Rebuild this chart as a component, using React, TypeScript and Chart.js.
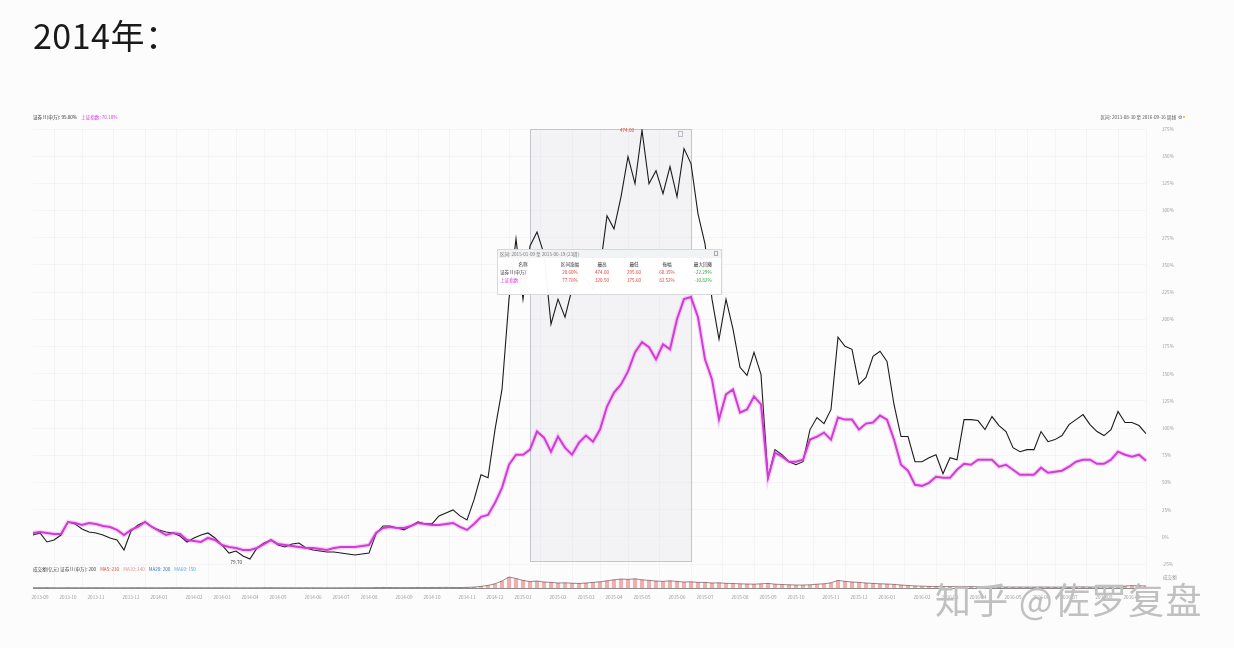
import React, { useEffect, useRef } from "react";
import { Chart, registerables } from "chart.js";

Chart.register(...registerables);

const WEEKS: string[] = [
  "2013-08-30", "2013-09-06", "2013-09-13", "2013-09-20", "2013-09-27", "2013-10-04", "2013-10-11", "2013-10-18", "2013-10-25", "2013-11-01",
  "2013-11-08", "2013-11-15", "2013-11-22", "2013-11-29", "2013-12-06", "2013-12-13", "2013-12-20", "2013-12-27",
  "2014-01-03", "2014-01-10", "2014-01-17", "2014-01-24", "2014-01-31", "2014-02-07", "2014-02-14", "2014-02-21", "2014-02-28",
  "2014-03-07", "2014-03-14", "2014-03-21", "2014-03-28", "2014-04-04", "2014-04-11", "2014-04-18", "2014-04-25",
  "2014-05-02", "2014-05-09", "2014-05-16", "2014-05-23", "2014-05-30", "2014-06-06", "2014-06-13", "2014-06-20", "2014-06-27",
  "2014-07-04", "2014-07-11", "2014-07-18", "2014-07-25", "2014-08-01", "2014-08-08", "2014-08-15", "2014-08-22", "2014-08-29",
  "2014-09-05", "2014-09-12", "2014-09-19", "2014-09-26", "2014-10-03", "2014-10-10", "2014-10-17", "2014-10-24", "2014-10-31",
  "2014-11-07", "2014-11-14", "2014-11-21", "2014-11-28", "2014-12-05", "2014-12-12", "2014-12-19", "2014-12-26",
  "2015-01-02", "2015-01-09", "2015-01-16", "2015-01-23", "2015-01-30", "2015-02-06", "2015-02-13", "2015-02-20", "2015-02-27",
  "2015-03-06", "2015-03-13", "2015-03-20", "2015-03-27", "2015-04-03", "2015-04-10", "2015-04-17", "2015-04-24",
  "2015-05-01", "2015-05-08", "2015-05-15", "2015-05-22", "2015-05-29", "2015-06-05", "2015-06-12", "2015-06-19", "2015-06-26",
  "2015-07-03", "2015-07-10", "2015-07-17", "2015-07-24", "2015-07-31", "2015-08-07", "2015-08-14", "2015-08-21", "2015-08-28",
  "2015-09-04", "2015-09-11", "2015-09-18", "2015-09-25", "2015-10-02", "2015-10-09", "2015-10-16", "2015-10-23", "2015-10-30",
  "2015-11-06", "2015-11-13", "2015-11-20", "2015-11-27", "2015-12-04", "2015-12-11", "2015-12-18", "2015-12-25",
  "2016-01-01", "2016-01-08", "2016-01-15", "2016-01-22", "2016-01-29", "2016-02-05", "2016-02-12", "2016-02-19", "2016-02-26",
  "2016-03-04", "2016-03-11", "2016-03-18", "2016-03-25", "2016-04-01", "2016-04-08", "2016-04-15", "2016-04-22", "2016-04-29",
  "2016-05-06", "2016-05-13", "2016-05-20", "2016-05-27", "2016-06-03", "2016-06-10", "2016-06-17", "2016-06-24",
  "2016-07-01", "2016-07-08", "2016-07-15", "2016-07-22", "2016-07-29", "2016-08-05", "2016-08-12", "2016-08-19", "2016-08-26",
  "2016-09-02", "2016-09-09", "2016-09-16",
];

// cumulative return (%) of the securities sector index (black line)
const BROKER: number[] = [
  1.8, 3.7, -4.6, -2.8, 1.8, 13.8, 12.0, 7.4, 4.6, 3.7,
  1.8, -0.9, -2.8, -12.0, 5.5, 11.1, 13.8, 9.2, 6.5, 4.6,
  3.7, 0.9, -4.6, -0.9, 1.8, 3.7, -0.9, -7.4, -14.8, -12.9,
  -17.5, -20.3, -10.1, -5.5, -2.8, -7.4, -9.2, -6.5, -5.5, -10.1,
  -12.0, -12.9, -13.8, -13.8, -14.8, -15.7, -16.6, -15.7, -14.8, 2.8,
  10.1, 10.1, 8.3, 6.5, 10.1, 13.8, 12.0, 12.0, 19.4, 22.1,
  24.9, 19.4, 15.7, 34.1, 57.2, 54.4, 98.7, 135.6, 218.6, 274.0,
  218.6, 267.5, 280.4, 260.1, 195.6, 218.6, 202.0, 227.9, 241.7, 237.1,
  227.9, 246.3, 295.2, 283.2, 312.7, 349.6, 324.7, 374.0, 324.7, 336.7,
  315.5, 340.4, 312.7, 357.0, 343.2, 297.0, 269.4, 218.6, 181.7, 218.6,
  191.0, 155.9, 148.5, 169.7, 149.4, 54.4, 80.3, 75.6, 69.2, 66.4,
  69.2, 98.7, 109.8, 104.2, 117.2, 183.6, 175.3, 172.5, 140.2, 146.7,
  166.1, 170.7, 161.4, 121.8, 92.3, 92.3, 69.2, 69.2, 72.9, 75.6,
  58.1, 72.9, 71.0, 107.9, 107.9, 107.0, 98.7, 110.7, 102.4, 96.9,
  82.1, 78.4, 80.3, 80.3, 96.9, 87.6, 89.5, 93.2, 103.3, 107.9,
  112.5, 103.3, 96.9, 93.2, 98.7, 115.3, 105.2, 105.2, 102.4, 95.0,
];

// cumulative return (%) of the benchmark index (magenta line)
const INDEX: number[] = [
  3.7, 4.6, 3.7, 2.8, 2.8, 13.8, 12.9, 11.1, 12.9, 12.0,
  10.1, 9.2, 6.5, 1.8, 6.5, 9.2, 13.8, 9.2, 5.5, 1.8,
  3.7, 2.8, -2.8, -3.7, -4.6, -0.9, -2.8, -7.4, -9.2, -10.1,
  -12.0, -12.0, -10.1, -6.5, -2.8, -6.5, -7.4, -8.3, -9.2, -10.1,
  -10.1, -11.1, -12.0, -10.1, -9.2, -9.2, -9.2, -8.3, -7.4, 3.7,
  8.3, 9.2, 8.3, 8.3, 10.1, 12.9, 12.0, 11.1, 11.1, 12.0,
  12.9, 9.2, 6.5, 12.0, 18.5, 20.3, 31.4, 45.2, 66.4, 75.6,
  75.6, 80.3, 96.9, 91.3, 78.4, 92.3, 82.1, 75.6, 86.7, 93.2,
  87.6, 98.7, 119.9, 132.8, 140.2, 152.2, 169.7, 179.0, 174.4, 163.3,
  177.1, 172.5, 200.2, 218.6, 220.5, 202.0, 163.3, 144.8, 107.9, 131.0,
  135.6, 114.4, 117.2, 129.2, 121.8, 54.4, 77.5, 73.8, 69.2, 69.2,
  71.0, 89.5, 92.3, 95.9, 89.5, 109.8, 107.9, 107.9, 98.7, 104.2,
  105.2, 111.6, 107.9, 89.5, 66.4, 60.9, 48.0, 47.0, 49.8, 55.4,
  54.4, 54.4, 61.8, 67.3, 66.4, 71.0, 71.0, 71.0, 64.6, 66.4,
  61.8, 57.2, 57.2, 57.2, 63.7, 59.0, 60.0, 60.9, 64.6, 69.2,
  71.0, 71.0, 67.3, 67.3, 71.0, 78.4, 75.6, 73.8, 75.6, 70.1,
];

// weekly turnover (亿元)
const VOLUME: number[] = [
  30, 28, 35, 25, 22, 30, 26, 24, 28, 32,
  30, 26, 22, 25, 28, 30, 26, 24, 22, 28,
  30, 32, 26, 24, 22, 20, 24, 26, 22, 20,
  18, 20, 24, 28, 30, 26, 24, 22, 20, 22,
  24, 20, 18, 20, 22, 24, 26, 28, 30, 45,
  50, 48, 42, 40, 44, 48, 46, 50, 55, 60,
  52, 48, 60, 90, 160, 260, 420, 700, 1100, 950,
  760, 640, 700, 600, 560, 500, 520, 480, 450, 500,
  560, 620, 720, 820, 900, 860, 920, 820, 760, 700,
  660, 720, 660, 600, 620, 560, 560, 500, 520, 460,
  450, 420, 400, 380, 420, 460, 380, 350, 320, 300,
  300, 320, 380, 420, 520, 760, 660, 600, 560, 500,
  460, 420, 400, 360, 300, 250, 210, 180, 160, 150,
  140, 140, 160, 150, 140, 130, 120, 110, 110, 100,
  100, 100, 90, 90, 100, 100, 90, 90, 100, 110,
  110, 100, 100, 110, 120, 150, 200, 240, 230, 200,
];

const Y_TICKS: number[] = [-25, 0, 25, 50, 75, 100, 125, 150, 175, 200, 225, 250, 275, 300, 325, 350, 375];
const SERIES_NAMES: string[] = ["证券Ⅱ(申万)", "上证指数"];
const RANGE: string[] = ["2015-01-09", "2015-06-19"];
const TABLE_HEAD: string[] = ["名称", "区间涨幅", "最高", "最低", "振幅", "最大回撤"];
const VOL_LEGEND: string[] = ["成交额(亿元) 证券Ⅱ(申万):", "MA5", "MA10", "MA20", "MA60"];
const TITLE = "2014年：";
const WATERMARK = "知乎 @佐罗复盘";

const FONT = '"Noto Sans CJK SC", "Noto Sans", sans-serif';
const BLACK = "#1b1b1b";
const MAGENTA = "#d43ad6";
const RED = "#e0443e";
const GREEN = "#2f9e44";

const MONTH_STARTS: number[] = WEEKS.map((_, i) => i).filter(
  (i) => i > 0 && WEEKS[i].slice(0, 7) !== WEEKS[i - 1].slice(0, 7)
);

function txt(ctx: CanvasRenderingContext2D, s: string, x: number, y: number, color: string, align: CanvasTextAlign = "left", size = 4.6) {
  ctx.font = `${size}px ${FONT}`;
  ctx.fillStyle = color;
  ctx.textAlign = align;
  ctx.textBaseline = "middle";
  ctx.fillText(s, x, y);
}

function rangeStats(arr: number[], i0: number, i1: number) {
  const seg = arr.slice(i0, i1 + 1);
  const hi = Math.max(...seg);
  const lo = Math.min(...seg);
  const chg = ((100 + arr[i1]) / (100 + arr[i0]) - 1) * 100;
  const amp = ((100 + hi) / (100 + lo) - 1) * 100;
  let peak = seg[0];
  let dd = 0;
  for (const v of seg) {
    peak = Math.max(peak, v);
    dd = Math.min(dd, ((100 + v) / (100 + peak) - 1) * 100);
  }
  return [chg.toFixed(2) + "%", (100 + hi).toFixed(2), (100 + lo).toFixed(2), amp.toFixed(2) + "%", dd.toFixed(2) + "%"];
}

const decor = {
  id: "decor",
  beforeDatasetsDraw(chart: any) {
    const { ctx, chartArea: a, scales } = chart;
    const sx = scales.x;
    const sy = scales.y;
    const x0 = Math.round(sx.getPixelForValue(WEEKS.indexOf(RANGE[0]))) + 0.5;
    const x1 = Math.round(sx.getPixelForValue(WEEKS.indexOf(RANGE[1]))) + 0.5;
    const top = Math.round(a.top) + 0.5;
    const bot = Math.round(sy.getPixelForValue(Y_TICKS[0])) - 2.5;
    ctx.save();
    ctx.fillStyle = "rgba(212,216,224,0.22)";
    ctx.fillRect(x0, top, x1 - x0, bot - top);
    ctx.strokeStyle = "#c2c5cb";
    ctx.lineWidth = 1;
    ctx.strokeRect(x0, top, x1 - x0, bot - top);
    ctx.strokeStyle = "#b9bcc2";
    ctx.strokeRect(x1 - 13, top + 2, 4, 5);
    ctx.restore();
  },
  afterDatasetsDraw(chart: any) {
    const { ctx, chartArea: a, scales } = chart;
    const sx = scales.x;
    const sy = scales.y;
    ctx.save();

    // top legends
    const lastB = BROKER[BROKER.length - 1];
    const lastI = INDEX[INDEX.length - 1];
    const l1 = `${SERIES_NAMES[0]}: ${lastB.toFixed(2)}%`;
    txt(ctx, l1, 33, 117, "#333");
    ctx.font = `4.6px ${FONT}`;
    const w1 = ctx.measureText(l1).width;
    txt(ctx, `${SERIES_NAMES[1]}: ${lastI.toFixed(2)}%`, 33 + w1 + 4, 117, MAGENTA);
    txt(ctx, `区间: ${WEEKS[0]} 至 ${WEEKS[WEEKS.length - 1]} 周线`, 1176, 117, "#555", "right");
    txt(ctx, "⚙", 1178, 117, "#666", "left", 5);
    ctx.fillStyle = "#f3c24a";
    ctx.fillRect(1183, 116, 2, 2);

    // max / min annotations of the black series
    let iMax = 0;
    let iMin = 0;
    BROKER.forEach((v, i) => {
      if (v > BROKER[iMax]) iMax = i;
      if (v < BROKER[iMin]) iMin = i;
    });
    txt(ctx, (100 + BROKER[iMax]).toFixed(2), sx.getPixelForValue(iMax) - 8, a.top + 1.5, RED, "right");
    txt(ctx, (100 + BROKER[iMin]).toFixed(2), sx.getPixelForValue(iMin) - 8, sy.getPixelForValue(BROKER[iMin]) + 3, "#444", "right");

    // volume legend
    let vx = 33;
    const volColors = ["#444", RED, "#f08a8a", "#3b6fd6", "#5aa9e6"];
    VOL_LEGEND.forEach((s, k) => {
      const label = k === 0 ? `${s} ${VOLUME[VOLUME.length - 1]}` : `${s}: ${VOLUME[VOLUME.length - 1 - k]}`;
      txt(ctx, label, vx, 569, volColors[k]);
      ctx.font = `4.6px ${FONT}`;
      vx += ctx.measureText(label).width + 4;
    });
    txt(ctx, "成交额", 1163, 577, "#999");

    // range statistics box
    const i0 = WEEKS.indexOf(RANGE[0]);
    const i1 = WEEKS.indexOf(RANGE[1]);
    const tx = 497, ty = 249, tw = 224, th = 45;
    ctx.fillStyle = "rgba(255,255,255,0.97)";
    ctx.fillRect(tx, ty, tw, th);
    ctx.fillStyle = "#f2f3f5";
    ctx.fillRect(tx, ty, tw, 9);
    ctx.strokeStyle = "#d6d8dc";
    ctx.lineWidth = 1;
    ctx.strokeRect(tx + 0.5, ty + 0.5, tw, th);
    ctx.strokeStyle = "#aaa";
    ctx.strokeRect(tx + tw - 6.5, ty + 2.5, 3, 4);
    txt(ctx, `区间: ${RANGE[0]} 至 ${RANGE[1]} (${i1 - i0}周)`, tx + 3, ty + 5, "#777");
    const colX = [523, 570, 602, 634, 667, 703];
    TABLE_HEAD.forEach((h, k) => txt(ctx, h, colX[k], ty + 15, "#333", "center"));
    const rows = [
      { name: SERIES_NAMES[0], color: "#333", vals: rangeStats(BROKER, i0, i1) },
      { name: SERIES_NAMES[1], color: MAGENTA, vals: rangeStats(INDEX, i0, i1) },
    ];
    rows.forEach((r, j) => {
      const y = ty + 23 + j * 8;
      txt(ctx, r.name, tx + 3, y, r.color);
      r.vals.forEach((v, k) => txt(ctx, v, colX[k + 1], y, k === 4 ? GREEN : RED, "center"));
    });
    ctx.restore();
  },
};

export default function App() {
  const ref = useRef<HTMLCanvasElement | null>(null);

  useEffect(() => {
    if (!ref.current) return;
    const chart = new Chart(ref.current, {
      type: "line",
      data: {
        labels: WEEKS,
        datasets: [
          {
            type: "line",
            label: SERIES_NAMES[1],
            data: INDEX,
            borderColor: MAGENTA,
            borderWidth: 2,
            pointRadius: 0,
            yAxisID: "y",
            order: 1,
          },
          {
            type: "line",
            label: SERIES_NAMES[1] + " glow",
            data: INDEX,
            borderColor: "rgba(212,58,214,0.2)",
            borderWidth: 4.5,
            pointRadius: 0,
            yAxisID: "y",
            order: 2,
          },
          {
            type: "line",
            label: SERIES_NAMES[0],
            data: BROKER,
            borderColor: BLACK,
            borderWidth: 1.1,
            pointRadius: 0,
            yAxisID: "y",
            order: 3,
          },
          {
            type: "line",
            label: "成交额线",
            data: VOLUME,
            borderColor: "rgba(90,60,60,0.75)",
            borderWidth: 0.8,
            pointRadius: 0,
            yAxisID: "yv",
            order: 4,
          },
          {
            type: "bar",
            label: "成交额",
            data: VOLUME,
            backgroundColor: "rgba(232,110,110,0.55)",
            barPercentage: 0.6,
            categoryPercentage: 1,
            yAxisID: "yv",
            order: 5,
          } as any,
        ],
      },
      options: {
        responsive: false,
        animation: false,
        layout: { padding: { left: 33, top: 129, right: 0, bottom: 0 } },
        plugins: { legend: { display: false }, tooltip: { enabled: false }, title: { display: false } },
        elements: { point: { radius: 0 }, line: { tension: 0 } },
        scales: {
          x: {
            type: "category",
            offset: false,
            grid: { color: "rgba(0,0,0,0.03)", drawTicks: false },
            border: { display: true, color: "#8a8a8a" },
            ticks: {
              autoSkip: false,
              maxRotation: 0,
              padding: 6,
              color: "#9a9a9a",
              font: { size: 4.6, family: FONT },
              callback: (v: any) => WEEKS[v as number].slice(0, 7),
            },
            afterBuildTicks: (s: any) => {
              s.ticks = MONTH_STARTS.map((i) => ({ value: i }));
            },
            afterFit: (s: any) => {
              s.height = 60;
            },
          },
          y: {
            position: "right",
            min: -46.9,
            max: 375,
            grid: { color: "rgba(0,0,0,0.028)", drawTicks: false },
            border: { display: false },
            ticks: {
              padding: 16,
              color: "#a0a0a0",
              font: { size: 4.6, family: FONT },
              callback: (v: any) => `${v}%`,
            },
            afterBuildTicks: (s: any) => {
              s.ticks = Y_TICKS.map((v) => ({ value: v }));
            },
            afterFit: (s: any) => {
              s.width = 88;
            },
          },
          yv: {
            position: "left",
            display: false,
            min: 0,
            max: 45900,
          },
        },
      } as any,
      plugins: [decor],
    });
    return () => chart.destroy();
  }, []);

  return (
    <div style={{ position: "absolute", left: 0, top: 0, width: 1234, height: 648, background: "#fcfcfd", overflow: "hidden" }}>
      <canvas ref={ref} width={1234} height={648} style={{ position: "absolute", left: 0, top: 0, width: 1234, height: 648 }} />
      <div
        style={{
          position: "absolute",
          left: 33,
          top: 18,
          fontFamily: FONT,
          fontSize: 34,
          lineHeight: "34px",
          letterSpacing: 0.5,
          color: "#1a1a1a",
          whiteSpace: "nowrap",
        }}
      >
        {TITLE}
      </div>
      <div
        style={{
          position: "absolute",
          left: 935,
          top: 580,
          fontFamily: FONT,
          fontSize: 36,
          lineHeight: "36px",
          letterSpacing: 1.2,
          color: "#c0c0c0",
          whiteSpace: "nowrap",
        }}
      >
        {WATERMARK}
      </div>
    </div>
  );
}
